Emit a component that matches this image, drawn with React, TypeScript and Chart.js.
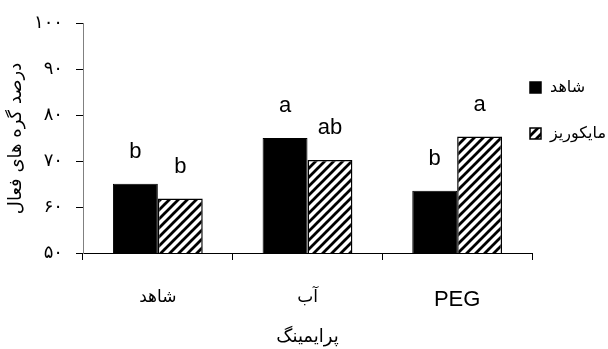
import React, { useEffect, useRef } from "react";
import { Chart, registerables } from "chart.js";

Chart.register(...registerables);

const categories = ["شاهد", "آب", "PEG"];
const seriesNames = ["شاهد", "مایکوریز"];
const controlValues = [65.1, 75.1, 63.6];
const mycorrhizaValues = [61.9, 70.3, 75.4];
const controlLetters = ["b", "a", "b"];
const mycorrhizaLetters = ["b", "ab", "a"];
const yMin = 50;
const yMax = 100;
const yStep = 10;
const yTitle = "درصد گره های فعال";
const xTitle = "پرایمینگ";

const persianDigits = ["۰", "۱", "۲", "۳", "۴", "۵", "۶", "۷", "۸", "۹"];
const toPersian = (v: number | string) =>
  String(v).replace(/[0-9]/g, (d) => persianDigits[Number(d)]);

function makeHatch(): CanvasPattern | string {
  const c = document.createElement("canvas");
  const s = 9;
  c.width = s;
  c.height = s;
  const g = c.getContext("2d");
  if (!g) return "#fff";
  g.fillStyle = "#fff";
  g.fillRect(0, 0, s, s);
  g.strokeStyle = "#000";
  g.lineWidth = 2.8;
  g.beginPath();
  for (let k = -1; k <= 1; k++) {
    g.moveTo(k * s - 1, s + 1);
    g.lineTo(k * s + s + 1, -1);
  }
  g.stroke();
  const p = g.createPattern(c, "repeat");
  return p || "#fff";
}

const persianFont = "'DejaVu Sans', sans-serif";
const latinFont = "'Liberation Sans', Arial, sans-serif";

export default function App() {
  const ref = useRef<HTMLCanvasElement | null>(null);
  useEffect(() => {
    if (!ref.current) return;
    const hatch = makeHatch();
    const letters = [controlLetters, mycorrhizaLetters];

    const letterPlugin = {
      id: "letters",
      afterDatasetsDraw(chart: any) {
        const ctx = chart.ctx;
        ctx.save();
        ctx.fillStyle = "#000";
        ctx.font = `22px ${latinFont}`;
        ctx.textAlign = "center";
        ctx.textBaseline = "middle";
        chart.data.datasets.forEach((_ds: any, di: number) => {
          const meta = chart.getDatasetMeta(di);
          meta.data.forEach((el: any, i: number) => {
            ctx.fillText(letters[di][i], el.x, el.y - 32);
          });
        });
        ctx.restore();
      },
    };

    const legendPlugin = {
      id: "customLegend",
      afterDraw(chart: any) {
        const ctx = chart.ctx;
        ctx.save();
        const fills = ["#000", hatch];
        const ys = [88, 134];
        seriesNames.forEach((name, i) => {
          const bx = 530;
          const by = ys[i] - 6;
          ctx.fillStyle = fills[i];
          ctx.fillRect(bx, by, 11, 11);
          ctx.strokeStyle = "#000";
          ctx.lineWidth = 1.5;
          ctx.strokeRect(bx, by, 11, 11);
          ctx.fillStyle = "#000";
          ctx.font = `16px ${persianFont}`;
          ctx.textAlign = "left";
          ctx.textBaseline = "middle";
          ctx.fillText(name, 550, ys[i]);
        });
        ctx.restore();
      },
    };

    const chart = new Chart(ref.current, {
      type: "bar",
      data: {
        labels: categories,
        datasets: [
          {
            label: seriesNames[0],
            data: controlValues,
            backgroundColor: "#000",
            borderColor: "#000",
            borderWidth: 1,
            categoryPercentage: 0.6,
            barPercentage: 1.0,
          },
          {
            label: seriesNames[1],
            data: mycorrhizaValues,
            backgroundColor: hatch as any,
            borderColor: "#000",
            borderWidth: 1.5,
            categoryPercentage: 0.6,
            barPercentage: 1.0,
          },
        ],
      },
      options: {
        responsive: false,
        animation: false,
        layout: { padding: { top: 21, right: 76, bottom: 0, left: 0 } },
        plugins: {
          legend: { display: false },
          tooltip: { enabled: false },
        },
        scales: {
          x: {
            grid: {
              offset: true,
              drawOnChartArea: false,
              drawTicks: true,
              tickLength: 7,
              tickColor: "#000",
              color: "#000",
            },
            border: { color: "#000", width: 1 },
            ticks: {
              color: "#000",
              padding: 27,
              font: (c: any) =>
                c.index === 2
                  ? { family: latinFont, size: 22 }
                  : { family: persianFont, size: 17 },
            },
            title: {
              display: true,
              text: xTitle,
              color: "#000",
              font: { family: persianFont, size: 18 },
              padding: { top: 0, bottom: 1 },
            },
            afterFit(scale: any) {
              scale.height = 96;
            },
          },
          y: {
            min: yMin,
            max: yMax,
            grid: {
              drawOnChartArea: false,
              drawTicks: true,
              tickLength: 7,
              tickColor: "#000",
            },
            border: { color: "#808080", width: 1 },
            ticks: {
              stepSize: yStep,
              color: "#000",
              padding: 13,
              font: { family: persianFont, size: 18 },
              callback: (v: any) => toPersian(v),
            },
            title: {
              display: true,
              text: yTitle,
              color: "#000",
              font: { family: persianFont, size: 18 },
              padding: { top: 6, bottom: 0 },
            },
            afterFit(scale: any) {
              scale.width = 83;
            },
          },
        },
      },
      plugins: [letterPlugin, legendPlugin],
    });
    return () => chart.destroy();
  }, []);

  return (
    <div style={{ position: "absolute", left: 0, top: 0, width: 608, height: 349, background: "#fff" }}>
      <canvas ref={ref} width={608} height={349} />
    </div>
  );
}
